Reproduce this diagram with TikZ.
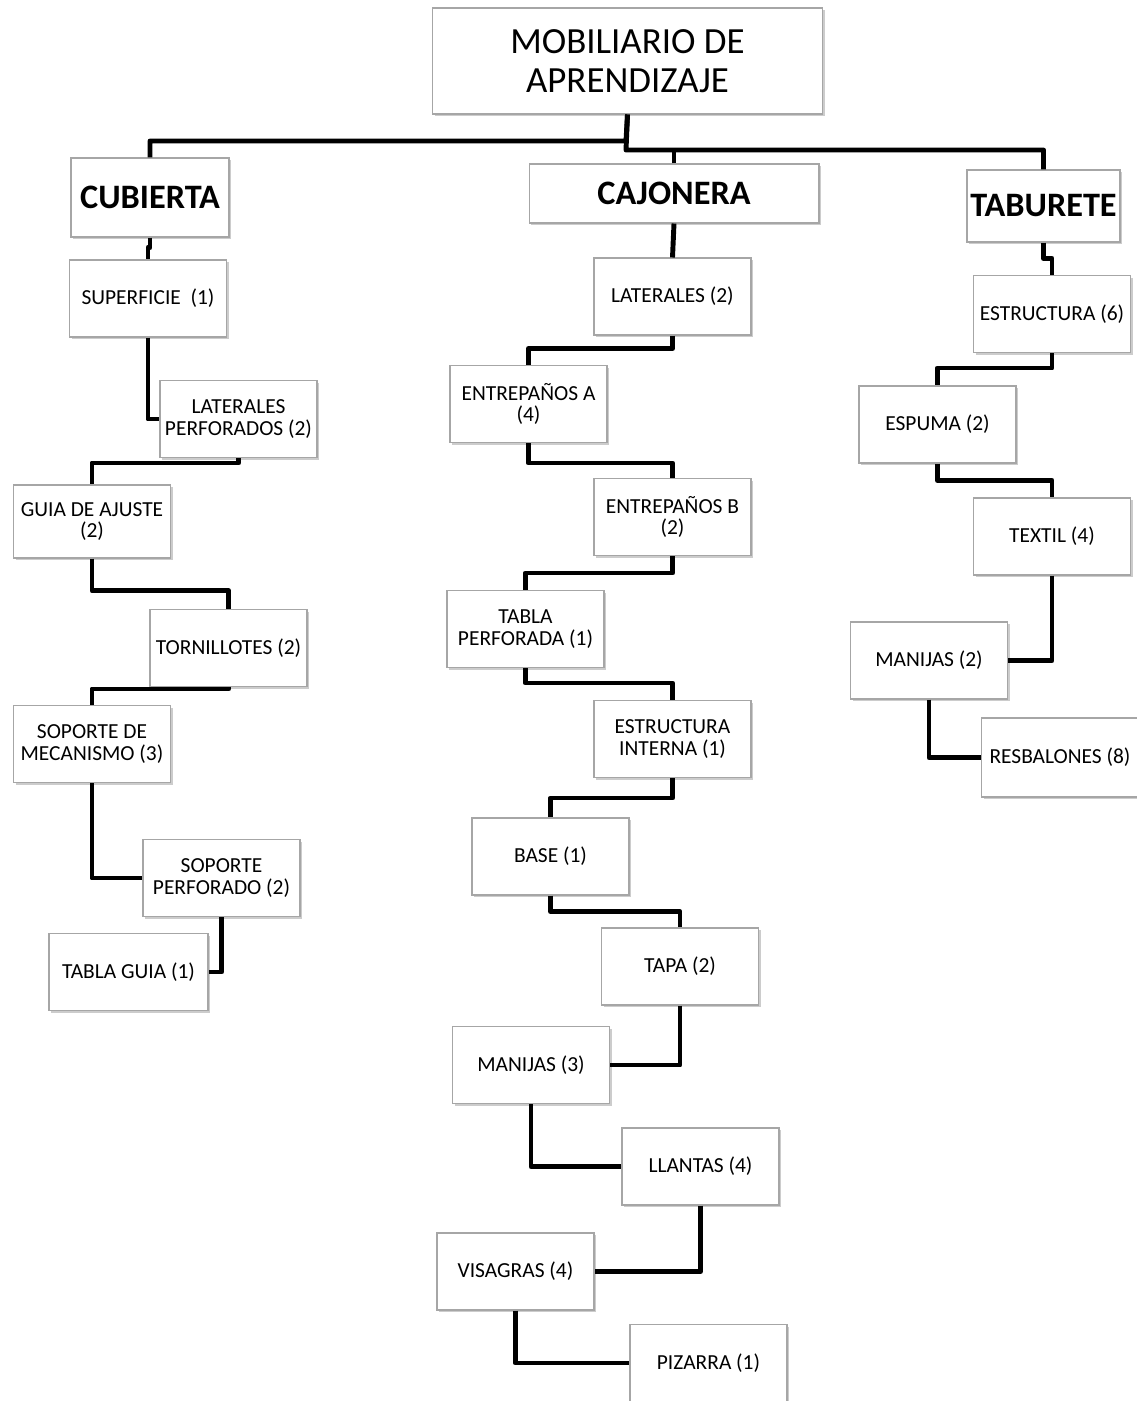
\documentclass[tikz,border=0pt]{standalone}
\usepackage{fontspec}
\setmainfont{Carlito}
\usepackage{tikz}
\usetikzlibrary{positioning,calc,shadows}

\begin{document}
\begin{tikzpicture}[
    x=0.02cm, y=-0.02cm,
    caja/.style={draw=gray!70, line width=0.6pt, fill=white, inner sep=0pt, align=center,
        drop shadow={shadow xshift=1.4pt, shadow yshift=-1.4pt, opacity=0.4}},
    pieza/.style={caja, minimum width=3.14cm, minimum height=1.54cm, font=\fontsize{12.2}{12.2}\selectfont},
    grupo/.style={caja, font=\fontsize{19.5}{22}\selectfont\bfseries},
    raiz/.style={caja, minimum width=7.82cm, minimum height=2.12cm, font=\fontsize{21}{22}\selectfont},
    conector/.style={line width=2.8pt, line join=round}
]
\useasboundingbox (0,0) rectangle (1137,1401);

% Root
\node[raiz] (root) at (627.5,61) {MOBILIARIO DE\\APRENDIZAJE};

% Groups
\node[grupo, minimum width=3.16cm, minimum height=1.58cm] (cub) at (150,197.5) {CUBIERTA};
\node[grupo, minimum width=5.8cm, minimum height=1.18cm] (caj) at (674,193.5) {CAJONERA};
\node[grupo, minimum width=3.06cm, minimum height=1.44cm] (tab) at (1043.5,206) {TABURETE};

% Cubierta
\node[pieza] (sup) at (148,298.5) {SUPERFICIE \ (1)};
\node[pieza] (latp) at (238.5,419) {LATERALES\\PERFORADOS (2)};
\node[pieza, minimum height=1.46cm] (guia) at (92,521.5) {GUIA DE AJUSTE\\(2)};
\node[pieza] (torn) at (228.5,648) {TORNILLOTES (2)};
\node[pieza] (sopm) at (92,744) {SOPORTE DE\\MECANISMO (3)};
\node[pieza] (sopp) at (221.5,878) {SOPORTE\\PERFORADO (2)};
\node[pieza, minimum width=3.18cm] (tabg) at (128.5,972) {TABLA GUIA (1)};

% Cajonera
\node[pieza] (lat) at (672.5,296.5) {LATERALES (2)};
\node[pieza] (entA) at (528.5,404) {ENTREPAÑOS A\\(4)};
\node[pieza] (entB) at (672.5,517) {ENTREPAÑOS B\\(2)};
\node[pieza] (tabp) at (525.5,629) {TABLA\\PERFORADA (1)};
\node[pieza] (estri) at (672.5,739) {ESTRUCTURA\\INTERNA (1)};
\node[pieza] (base) at (550.5,856.5) {BASE (1)};
\node[pieza] (tapa) at (680,966.5) {TAPA (2)};
\node[pieza] (man) at (531,1065) {MANIJAS (3)};
\node[pieza] (llan) at (700.5,1166.5) {LLANTAS (4)};
\node[pieza] (vis) at (515.5,1271.5) {VISAGRAS (4)};
\node[pieza] (piz) at (708.5,1363) {PIZARRA (1)};

% Taburete
\node[pieza] (estr) at (1052,314) {ESTRUCTURA (6)};
\node[pieza] (esp) at (937.5,424.5) {ESPUMA (2)};
\node[pieza] (tex) at (1052,536.5) {TEXTIL (4)};
\node[pieza] (manT) at (929,660.5) {MANIJAS (2)};
\node[pieza, minimum height=1.58cm] (res) at (1060,757.5) {RESBALONES (8)};

% Connectors from the root
\coordinate (barizq) at (626,141);
\coordinate (barder) at (626,150);
\draw[conector] (root.south) -- (barizq) -| (cub.north);
\draw[conector] (root.south) -- (barder) -| (tab.north);
\draw[conector] (caj.north) -- (caj.north |- barder);

% Cubierta chain
\draw[conector] (cub.south) -- ++(0,10) -| (sup.north);
\draw[conector] (sup.south) |- (latp.west);
\draw[conector] (latp.south) -- ++(0,5) -| (guia.north);
\draw[conector] (guia.south) -- ++(0,32) -| (torn.north);
\draw[conector] (torn.south) -- ++(0,2) -| (sopm.north);
\draw[conector] (sopm.south) |- (sopp.west);
\draw[conector] (sopp.south) |- (tabg.east);

% Cajonera chain
\draw[conector] (caj.south) -- (lat.north);
\draw[conector] (lat.south) -- ++(0,13) -| (entA.north);
\draw[conector] (entA.south) -- ++(0,20) -| (entB.north);
\draw[conector] (entB.south) -- ++(0,17) -| (tabp.north);
\draw[conector] (tabp.south) -- ++(0,15) -| (estri.north);
\draw[conector] (estri.south) -- ++(0,20) -| (base.north);
\draw[conector] (base.south) -- ++(0,16) -| (tapa.north);
\draw[conector] (tapa.south) |- (man.east);
\draw[conector] (man.south) |- (llan.west);
\draw[conector] (llan.south) |- (vis.east);
\draw[conector] (vis.south) |- (piz.west);

% Taburete chain
\draw[conector] (tab.south) -- ++(0,16) -| (estr.north);
\draw[conector] (estr.south) -- ++(0,15) -| (esp.north);
\draw[conector] (esp.south) -- ++(0,17) -| (tex.north);
\draw[conector] (tex.south) |- (manT.east);
\draw[conector] (manT.south) |- (res.west);

\end{tikzpicture}
\end{document}
